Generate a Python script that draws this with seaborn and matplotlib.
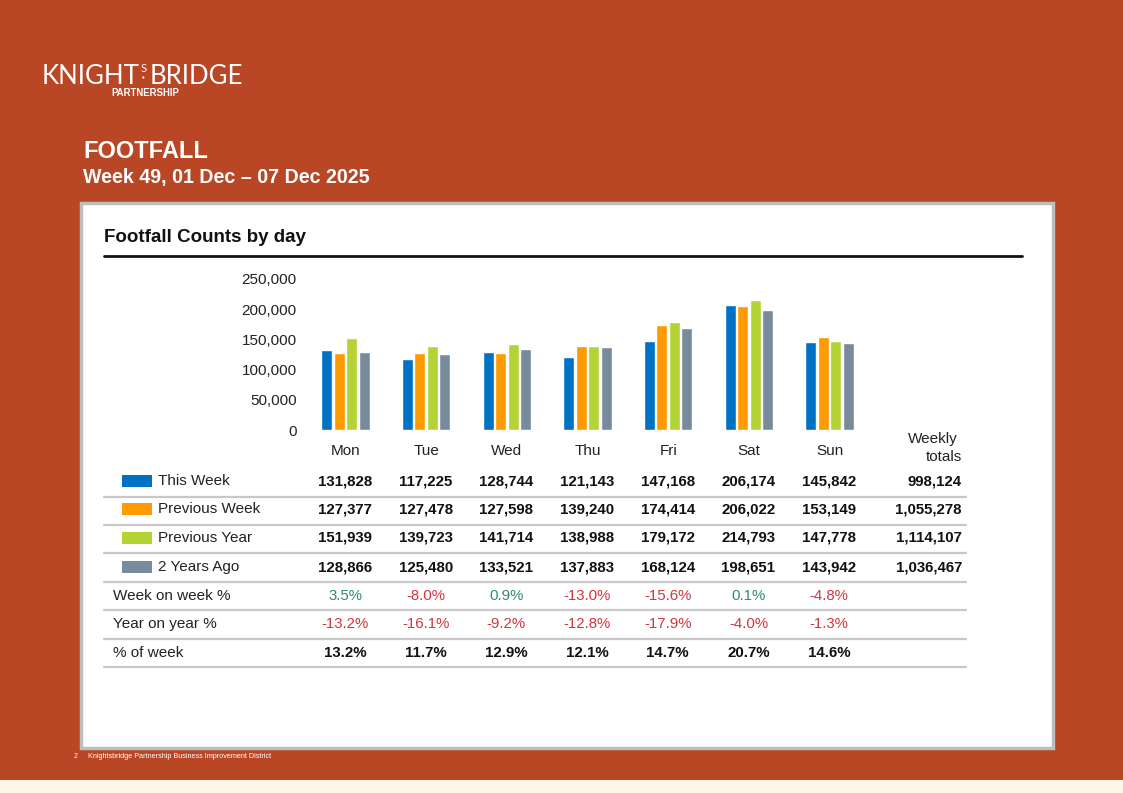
import matplotlib
matplotlib.use("Agg")
import matplotlib.pyplot as plt
import matplotlib.patches as mpatches
import seaborn as sns
import pandas as pd

# chart data
days = ["Mon", "Tue", "Wed", "Thu", "Fri", "Sat", "Sun"]
series = ["This Week", "Previous Week", "Previous Year", "2 Years Ago"]
this_week = [131828, 117225, 128744, 121143, 147168, 206174, 145842]
prev_week = [127377, 127478, 127598, 139240, 174414, 206022, 153149]
prev_year = [151939, 139723, 141714, 138988, 179172, 214793, 147778]
two_years = [128866, 125480, 133521, 137883, 168124, 198651, 143942]
weekly_totals = [998124, 1055278, 1114107, 1036467]
week_on_week = [3.5, -8.0, 0.9, -13.0, -15.6, 0.1, -4.8]
year_on_year = [-13.2, -16.1, -9.2, -12.8, -17.9, -4.0, -1.3]
pct_of_week = [13.2, 11.7, 12.9, 12.1, 14.7, 20.7, 14.6]
y_ticks = [0, 50000, 100000, 150000, 200000, 250000]

colors = ["#0072C6", "#FF9A00", "#B4D335", "#788B9C"]
BG = "#B94726"
POS = "#2E8C6C"
NEG = "#D2353F"

sns.set_theme(style="white")
plt.rcParams["font.family"] = ["Liberation Sans", "DejaVu Sans"]

W, H = 1123, 793
fig = plt.figure(figsize=(W / 100, H / 100), dpi=100)
fig.patch.set_facecolor(BG)

# full-figure axes in pixel units for the page furniture and the table
bg = fig.add_axes([0, 0, 1, 1])
bg.set_xlim(0, W)
bg.set_ylim(H, 0)
bg.axis("off")

bg.add_patch(mpatches.Rectangle((0, 780), W, 13, color="#FCF5E8", lw=0))
bg.add_patch(mpatches.Rectangle((81, 203), 972, 545, facecolor="white",
                                edgecolor="#BDBDBD", lw=2.5))

# logo
logo = dict(color="white", fontsize=18.5, family=["Lato", "DejaVu Sans"], va="baseline")
bg.text(42, 84, "KNIGHT", **logo)
bg.text(140.5, 72, "S", color="white", fontsize=8, family=["Lato", "DejaVu Sans"],
        va="baseline")
bg.add_patch(mpatches.Circle((143.3, 77.5), 1.1, color="white", lw=0))
bg.text(150, 84, "BRIDGE", **logo)
bg.text(145, 93, "PARTNERSHIP", color="white", fontsize=6.9, fontweight="bold",
        ha="center", va="center")

bg.text(83, 152, "FOOTFALL", color="white", fontsize=17, fontweight="bold", va="center")
bg.text(83, 177, "Week 49, 01 Dec \u2013 07 Dec 2025", color="white", fontsize=14.1,
        fontweight="bold", va="center")

bg.text(104, 238, "Footfall Counts by day", fontsize=13.5, fontweight="bold",
        color="#111111", va="center")
bg.plot([104, 1022], [256, 256], color="#111111", lw=2)

# footer
bg.text(74, 756, "2", color="white", fontsize=5, va="center")
bg.text(88, 757, "Knightsbridge Partnership Business Improvement District",
        color="white", fontsize=5.2, va="center")

# bar chart
ax = fig.add_axes([305 / W, 1 - 430 / H, 565 / W, 151 / H])
df = pd.DataFrame({
    "day": days * 4,
    "series": [s for s in series for _ in days],
    "count": this_week + prev_week + prev_year + two_years,
})
sns.barplot(data=df, x="day", y="count", hue="series", palette=colors, order=days,
            hue_order=series, width=0.62, gap=0.12, saturation=1, legend=False, ax=ax)
ax.set_xlim(-0.5, 6.5)
ax.set_ylim(0, 250000)
ax.set_yticks(y_ticks)
ax.set_yticklabels([f"{v:,}" for v in y_ticks], fontsize=11, color="#222222")
ax.tick_params(axis="x", labelsize=11, colors="#222222", length=0, pad=10)
ax.tick_params(axis="y", length=0, pad=6)
ax.set_xlabel("")
ax.set_ylabel("")
ax.set_facecolor("none")
sns.despine(ax=ax, left=True, bottom=True)

bg.text(958, 439, "Weekly", fontsize=11, ha="right", va="center", color="#222222")
bg.text(962, 457, "totals", fontsize=11, ha="right", va="center", color="#222222")

# table under the chart
col_x = [345 + i * 80.7 for i in range(len(days))]
row_y = [481, 509, 538, 567]
for i, (name, vals) in enumerate(zip(series, [this_week, prev_week, prev_year, two_years])):
    y = row_y[i]
    bg.add_patch(mpatches.Rectangle((122, y - 6), 30, 12, color=colors[i], lw=0))
    bg.text(158, y, name, fontsize=11, va="center", color="#222222")
    for x, v in zip(col_x, vals):
        bg.text(x, y, f"{v:,}", fontsize=10.8, fontweight="bold", ha="center",
                va="center", color="#111111")
    bg.text(962, y, f"{weekly_totals[i]:,}", fontsize=10.8, fontweight="bold",
            ha="right", va="center", color="#111111")

metric_rows = [("Week on week %", week_on_week, 596, True),
               ("Year on year %", year_on_year, 624, True),
               ("% of week", pct_of_week, 653, False)]
for label, vals, y, coloured in metric_rows:
    bg.text(113, y, label, fontsize=11, va="center", color="#222222")
    for x, v in zip(col_x, vals):
        if coloured:
            c = POS if v >= 0 else NEG
            bg.text(x, y, f"{v:.1f}%", fontsize=10.8, ha="center", va="center", color=c)
        else:
            bg.text(x, y, f"{v:.1f}%", fontsize=10.8, fontweight="bold", ha="center",
                    va="center", color="#111111")

for y in [497, 525, 553, 582, 610, 639, 667]:
    bg.plot([104, 966], [y, y], color="#C8C8C8", lw=1.6)

fig.savefig("out.png", dpi=100, facecolor=fig.get_facecolor())
